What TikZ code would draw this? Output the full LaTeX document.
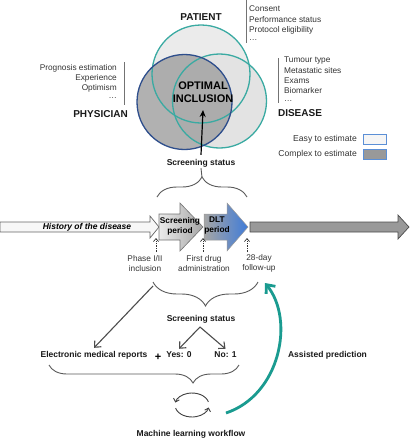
\documentclass[tikz,border=0pt]{standalone}
\usepackage{fontspec}
\setmainfont{Liberation Sans}
\usetikzlibrary{decorations.pathreplacing,arrows.meta}
\definecolor{teal1}{HTML}{3AAAA2}
\definecolor{dblue}{HTML}{2E4E8C}
\definecolor{tealarr}{HTML}{1A9B90}
\definecolor{legblue}{HTML}{5B8FD6}
\definecolor{dltblue}{HTML}{3F7BD8}
\begin{document}
\begin{tikzpicture}[x=1pt,y=1pt,
  lbl/.style={font=\fontsize{8.3}{10.4}\selectfont, text=black!80, inner sep=0pt},
  blbl/.style={font=\bfseries\fontsize{8.5}{10}\selectfont, text=black!90, inner sep=1pt},
  big/.style={font=\bfseries\fontsize{10}{12}\selectfont, text=black!90, inner sep=0pt},
  vbar/.style={draw=black!55, line width=0.8pt},
  brc/.style={draw=black!65, line width=0.9pt, decorate},
  dotarr/.style={densely dotted, draw=black!80, line width=0.7pt, -{Straight Barb[length=3pt,width=5pt]}},
  grayarr/.style={draw=black!70, line width=1.1pt, -{Straight Barb[length=5pt,width=9pt]}},
  cyc/.style={draw=black!75, line width=0.9pt, -{Straight Barb[length=3pt,width=6pt]}},
]
\useasboundingbox (0,0) rectangle (410,-440);

% Venn circles
\fill[black!8] (201,-74) circle (49);
\fill[black!11] (219.5,-101) circle (47);
\fill[black!36, opacity=0.85] (184.5,-102) circle (47.5);
\draw[teal1, line width=1.3pt] (201,-74) circle (49);
\draw[teal1, line width=1.3pt] (219.5,-101) circle (47);
\draw[dblue, line width=1.3pt] (184.5,-102) circle (47.5);

\node[big] (pat) at (201,-17) {PATIENT};
\node[big] (phys) at (100.5,-114) {PHYSICIAN};
\node[big] (dis) at (300,-113) {DISEASE};
\node[font=\bfseries\fontsize{11}{13}\selectfont, align=center, inner sep=2pt] (oi) at (203,-92.5) {OPTIMAL\\INCLUSION};

% lists
\draw[vbar] (246,0) -- (246,-43);
\node[lbl, anchor=west] (l1) at (249,-9) {Consent};
\node[lbl, anchor=west] (l2) at (249,-19.5) {Performance status};
\node[lbl, anchor=west] (l3) at (249,-30) {Protocol eligibility};
\node[lbl, anchor=west] (l4) at (249,-40) {\dots};

\draw[vbar] (124,-62) -- (124,-105);
\node[lbl, anchor=east] (p1) at (117,-68) {Prognosis estimation};
\node[lbl, anchor=east] (p2) at (117,-78) {Experience};
\node[lbl, anchor=east] (p3) at (117,-88) {Optimism};
\node[lbl, anchor=east] (p4) at (117,-98) {\dots};

\draw[vbar] (278,-58) -- (278,-103);
\node[lbl, anchor=west] (d1) at (284,-61) {Tumour type};
\node[lbl, anchor=west] (d2) at (284,-71) {Metastatic sites};
\node[lbl, anchor=west] (d3) at (284,-81) {Exams};
\node[lbl, anchor=west] (d4) at (284,-91) {Biomarker};
\node[lbl, anchor=west] (d5) at (284,-101) {\dots};

% legend
\node[lbl, anchor=east, font=\fontsize{8.6}{10}\selectfont] (leg1) at (357,-139) {Easy to estimate};
\node[lbl, anchor=east, font=\fontsize{8.6}{10}\selectfont] (leg2) at (357,-154) {Complex to estimate};
\draw[legblue, line width=1pt, fill=black!4] (363,-134) rectangle (386,-144);
\draw[legblue, line width=1pt, fill=black!40] (363,-149) rectangle (386,-159);

% screening status 1
\node[blbl] (ss1) at (201,-163) {Screening status};
\draw[black, line width=1.2pt, -{Stealth[length=7pt,width=6pt]}] ([yshift=3pt]ss1.north) -- (203,-110);
\draw[brc, decoration={brace, amplitude=20pt}] (157,-197) -- (247,-197);
\draw[draw=black!65, line width=0.9pt] (202,-177.5) -- (ss1.south);

% timeline
\draw[draw=black!60, fill=black!3, line width=0.7pt] (0,-222) -- (150,-222) -- (150,-216) -- (159,-227) -- (150,-238) -- (150,-232) -- (0,-232) -- cycle;
\node[font=\bfseries\itshape\fontsize{8.5}{10}\selectfont, inner sep=0pt] (hist) at (87,-227.5) {History of the disease};

\draw[draw=black!55, left color=black!8, right color=black!35, line width=0.6pt] (159,-214) -- (180,-214) -- (180,-203) -- (203,-227) -- (180,-251) -- (180,-240) -- (159,-240) -- cycle;
\node[font=\bfseries\fontsize{8.3}{10}\selectfont, align=center, inner sep=0pt] (scr) at (180,-226) {Screening\\period};

\draw[draw=black!40, left color=black!35, right color=dltblue, line width=0.5pt] (204,-214) -- (227,-214) -- (227,-203) -- (248,-227) -- (227,-251) -- (227,-240) -- (204,-240) -- cycle;
\node[font=\bfseries\fontsize{8.3}{10}\selectfont, align=center, inner sep=0pt] (dlt) at (217,-226) {DLT\\period};

\draw[draw=black!70, fill=black!40, line width=0.7pt] (250,-222) -- (398,-222) -- (398,-215) -- (409,-227) -- (398,-239) -- (398,-232) -- (250,-232) -- cycle;

% milestones
\coordinate (m1) at (156,-238);
\coordinate (m2) at (203,-238);
\coordinate (m3) at (247,-238);
\node[lbl, align=center] (pi) at (145,-263.5) {Phase I/II\\inclusion};
\node[lbl, align=center] (fd) at (204,-263.5) {First drug\\administration};
\node[lbl, align=center] (fu) at (259,-263.5) {28-day\\follow-up};
\draw[dotarr] (156,-252) -- (m1);
\draw[dotarr] (203,-252) -- (m2);
\draw[dotarr] (247,-252) -- (m3);

% lower brace
\draw[brc, decoration={brace, mirror, amplitude=24pt}] (153,-282) -- (258,-282);
\node[blbl] (ss2) at (201,-319) {Screening status};
\node[blbl, inner sep=3pt] (emr) at (94,-355) {Electronic medical reports};
\node[font=\bfseries\fontsize{11}{12}\selectfont, inner sep=0pt] (plus) at (158,-357) {+};
\node[blbl, inner sep=3pt] (yes) at (179,-355) {Yes: 0};
\node[blbl, inner sep=3pt] (no) at (225.5,-355) {No: 1};
\coordinate (c1) at (153,-286);
\coordinate (apex) at (200,-327);
\draw[grayarr] (c1) -- (emr.north);
\draw[grayarr] (apex) -- (yes.north);
\draw[grayarr] (apex) -- (no.north);

% bottom brace
\draw[brc, decoration={brace, mirror, amplitude=18pt, aspect=0.758}] (49,-365) -- (239,-365);

% cycle
\draw[cyc] (192,-405) ++(15:17 and 12) arc[start angle=15, end angle=168, x radius=17, y radius=12];
\draw[cyc] (192,-405) ++(195:17 and 12) arc[start angle=195, end angle=348, x radius=17, y radius=12];
\coordinate (cy) at (226,-413);
\node[blbl] (mlw) at (191,-434) {Machine learning workflow};

% assisted prediction
\coordinate (tip) at (265,-283);
\draw[tealarr, line width=2.8pt, -{Straight Barb[length=7pt,width=12pt]}] (cy) .. controls (280,-395) and (295,-320) .. (tip);
\node[blbl] (ap) at (327.5,-355) {Assisted prediction};
\end{tikzpicture}
\end{document}
